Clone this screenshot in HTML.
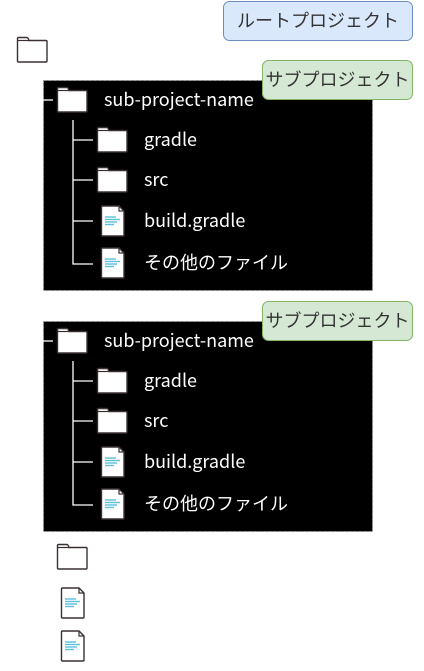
<!DOCTYPE html>
<html><head><meta charset="utf-8"><style>
html,body{margin:0;padding:0;background:#fff;width:424px;height:671px;overflow:hidden}
svg{display:block}
text{font-family:"Noto Sans CJK JP","Liberation Sans",sans-serif}
</style></head><body>
<svg width="424" height="671" viewBox="0 0 424 671" xmlns="http://www.w3.org/2000/svg">
<defs>
<g id="fold">
<path d="M0.5,3.5 L0.5,1.5 Q0.5,0.5 1.5,0.5 L10,0.5 Q11,0.5 12,3.5 L29,3.5 Q30,3.5 30,4.5 L30,24 Q30,25 29,25 L1.5,25 Q0.5,25 0.5,24 Z" fill="#fff" stroke="#3a3030" stroke-width="1.4"/>
<path d="M0.5,3.5 L12,3.5" stroke="#3a3030" stroke-width="1.2"/>
</g>
<g id="file">
<path d="M1.5,1 L18,1 L23,6 L23,30 Q23,31 22,31 L1.5,31 Q0.5,31 0.5,30 L0.5,2 Q0.5,1 1.5,1 Z" fill="#fff" stroke="#3a3030" stroke-width="1.4"/>
<path d="M18,1 L18,6 L23,6" fill="none" stroke="#3a3030" stroke-width="1.2"/>
<g stroke="#5bc0de" stroke-width="1.4">
<line x1="4" y1="12" x2="15" y2="12"/><line x1="4" y1="14.5" x2="19" y2="14.5"/>
<line x1="4" y1="17" x2="16" y2="17"/><line x1="4" y1="19.5" x2="13" y2="19.5"/>
</g>
</g>
<g id="box">
<rect x="43.5" y="0.5" width="329" height="210" fill="#000" stroke="#999" stroke-dasharray="3,2"/>
<line x1="43" y1="20" x2="53" y2="20" stroke="#fff" stroke-width="1.3"/>
<use href="#fold" x="57" y="7"/>
<text x="104" y="26" fill="#fff" font-size="18">sub-project-name</text>
<path d="M73,40 L73,184 L93,184 M73,60 L93,60 M73,100 L93,100 M73,141 L93,141" fill="none" stroke="#fff" stroke-width="1.3"/>
<use href="#fold" x="97" y="47"/>
<text x="144" y="66" fill="#fff" font-size="18">gradle</text>
<use href="#fold" x="97" y="87"/>
<text x="144" y="106" fill="#fff" font-size="18">src</text>
<use href="#file" x="101" y="125"/>
<text x="144" y="147" fill="#fff" font-size="18">build.gradle</text>
<use href="#file" x="101" y="167"/>
<text x="144" y="189" fill="#fff" font-size="18">その他のファイル</text>
</g>
<g id="sub">
<rect x="262.5" y="0.5" width="150" height="39" rx="6" fill="#d5e8d4" stroke="#82b366"/>
<text x="337.5" y="26" text-anchor="middle" font-size="18" fill="#333">サブプロジェクト</text>
</g>
</defs>
<rect x="223.5" y="1.5" width="189" height="39" rx="6" fill="#dae8fc" stroke="#6c8ebf"/>
<text x="318" y="27" text-anchor="middle" font-size="18" fill="#333">ルートプロジェクト</text>
<use href="#fold" x="17" y="37"/>
<use href="#box" x="0" y="80"/>
<use href="#sub" x="0" y="60"/>
<use href="#box" x="0" y="321"/>
<use href="#sub" x="0" y="301"/>
<use href="#fold" x="57" y="544"/>
<use href="#file" x="61" y="587"/>
<use href="#file" x="61" y="630"/>
</svg>
</body></html>
